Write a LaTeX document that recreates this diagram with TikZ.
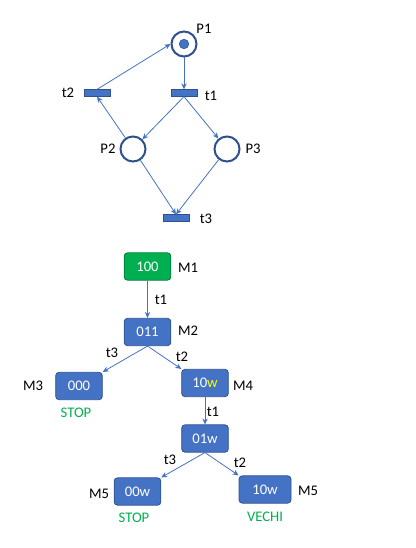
\documentclass[tikz,border=0pt]{standalone}
\usepackage{fontspec}
\setmainfont{Carlito}
\usetikzlibrary{arrows.meta}
\definecolor{boxblue}{HTML}{4472C4}
\definecolor{edgeblue}{HTML}{2F528F}
\definecolor{boxgreen}{HTML}{00B050}
\definecolor{wyellow}{HTML}{FFFF00}

\begin{document}
\begin{tikzpicture}[x=0.75pt,y=-0.75pt,
    place/.style={circle,draw=edgeblue,line width=1.5pt,fill=white,minimum size=18.75pt,inner sep=0pt},
    trans/.style={rectangle,draw=edgeblue,fill=boxblue,minimum width=19.5pt,minimum height=5pt,inner sep=0pt},
    marking/.style={rectangle,rounded corners=2.5pt,draw=edgeblue,line width=0.6pt,fill=boxblue,text=white,minimum width=35pt,minimum height=20.5pt,inner sep=0pt,font=\fontsize{11}{13}\selectfont},
    flow/.style={-{Stealth[length=4.5pt,width=4pt]},boxblue,line width=0.6pt},
    lbl/.style={font=\fontsize{11}{13}\selectfont},
    note/.style={lbl,text=boxgreen}]
    \useasboundingbox (0,0) rectangle (416,548);
    % Draw the places
    \node[place] (P1) at (184,44) {};
    \fill[boxblue,draw=edgeblue] (P1) circle (3.6pt);
    \node[place] (P2) at (133,149) {};
    \node[place] (P3) at (227,149) {};
    % Draw the transitions
    \node[trans] (t1) at (184,93) {};
    \node[trans] (t2) at (97,93) {};
    \node[trans] (t3) at (176,218) {};
    % Label the net
    \node[lbl] (lP1) at (204,29) {P1};
    \node[lbl] (lP2) at (108,149) {P2};
    \node[lbl] (lP3) at (253,149) {P3};
    \node[lbl] (lt1) at (211,96) {t1};
    \node[lbl] (lt2) at (68,93) {t2};
    \node[lbl] (lt3) at (206,219) {t3};
    % Draw the arcs
    \draw[flow] (P1) -- (t1.north);
    \draw[flow] (t1.south) -- (P2);
    \draw[flow] (t1.south) -- (P3);
    \draw[flow] (P2) -- (t2.south);
    \draw[flow] (t2.north) -- (P1.west);
    \draw[flow] (P2) -- (t3.north);
    \draw[flow] (P3) -- (t3.north);
    % Draw the coverability tree
    \node[marking,fill=boxgreen,draw=boxgreen!70!black] (m1) at (147.5,266.5) {100};
    \node[marking] (m2) at (147.5,332) {011};
    \node[marking] (m3) at (79,386) {000};
    \node[marking] (m4) at (205,383) {10\textcolor{wyellow}{w}};
    \node[marking] (m01w) at (205,438.5) {01w};
    \node[marking] (m5l) at (137.5,491.5) {00w};
    \node[marking,minimum width=39pt] (m5r) at (265,489.5) {10w};
    % Label the markings
    \node[lbl] (lm1) at (188,268) {M1};
    \node[lbl] (lm2) at (188,331) {M2};
    \node[lbl] (lm3) at (33,386) {M3};
    \node[lbl] (lm4) at (243,386) {M4};
    \node[lbl] (lm5l) at (99,494) {M5};
    \node[lbl] (lm5r) at (308,491) {M5};
    \node[note] (stop1) at (76,413) {STOP};
    \node[note] (stop2) at (134,518) {STOP};
    \node[note] (old) at (265,517) {VECHI};
    % Draw the firings
    \draw[flow] (m1) -- (m2);
    \draw[flow] (m2.south) -- (m3.north east);
    \draw[flow] (m2.south) -- (m4.north west);
    \draw[flow] (m4) -- (m01w);
    \draw[flow] (m01w.south) -- (m5l.north east);
    \draw[flow] (m01w.south) -- (m5r.north west);
    % Label the firings
    \node[lbl] (f1) at (161,300) {t1};
    \node[lbl] (f2) at (112,353) {t3};
    \node[lbl] (f3) at (182,357) {t2};
    \node[lbl] (f4) at (213,412) {t1};
    \node[lbl] (f5) at (170,460) {t3};
    \node[lbl] (f6) at (240,463) {t2};
\end{tikzpicture}
\end{document}
